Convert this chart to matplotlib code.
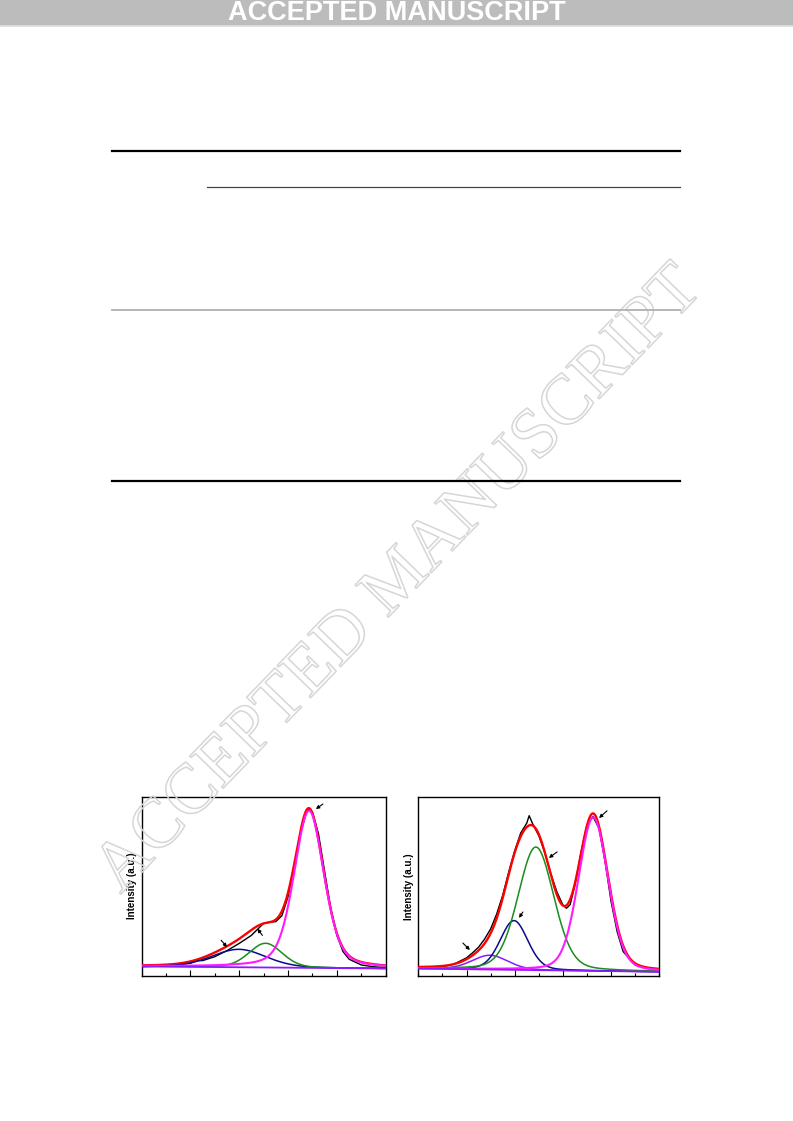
import numpy as np
import matplotlib
matplotlib.use("Agg")
import matplotlib.pyplot as plt
import matplotlib.patheffects as pe
from matplotlib.patches import Rectangle
from matplotlib.lines import Line2D

# --- data -------------------------------------------------------------------
# measured spectra (black), sampled along the energy axis (arbitrary 0..10)
left_x = [0, 0.5, 1.0, 1.5, 2.0, 2.25, 2.5, 3.0, 3.5, 4.0, 4.5, 5.0, 5.25, 5.5,
          5.75, 6.0, 6.25, 6.5, 6.75, 6.85, 7.0, 7.25, 7.5, 7.75, 8.0, 8.25,
          8.5, 9.0, 9.5, 10.0]
left_raw = [0.050, 0.052, 0.054, 0.063, 0.069, 0.085, 0.084, 0.106, 0.140,
            0.180, 0.225, 0.292, 0.298, 0.302, 0.335, 0.440, 0.610, 0.790,
            0.910, 0.932, 0.912, 0.790, 0.580, 0.375, 0.225, 0.135, 0.092,
            0.060, 0.050, 0.045]

right_x = [0, 0.5, 1.0, 1.5, 2.0, 2.25, 2.5, 2.75, 3.0, 3.25, 3.5, 3.75, 4.0,
           4.25, 4.5, 4.6, 4.75, 5.0, 5.25, 5.5, 5.75, 6.0, 6.15, 6.3, 6.5,
           6.75, 7.0, 7.25, 7.5, 7.75, 8.0, 8.25, 8.5, 9.0, 9.5, 10.0]
right_raw = [0.041, 0.043, 0.050, 0.066, 0.100, 0.128, 0.160, 0.205, 0.262,
             0.345, 0.450, 0.580, 0.700, 0.800, 0.855, 0.897, 0.850, 0.785,
             0.690, 0.570, 0.470, 0.396, 0.378, 0.398, 0.508, 0.690, 0.845,
             0.892, 0.826, 0.640, 0.415, 0.247, 0.135, 0.060, 0.041, 0.032]

# fitted components: centre, height above background, fwhm, lorentz share
left_bg = [0.052, 0.040]
left_names = ["navy", "green", "magenta"]
left_center = [3.99, 5.08, 6.86]
left_height = [0.100, 0.135, 0.877]
left_fwhm = [2.6, 1.6, 1.45]
left_eta = [0.2, 0.2, 0.35]

right_bg = [0.040, 0.022]
right_names = ["purple", "navy", "green", "magenta"]
right_center = [2.97, 3.97, 4.88, 7.26]
right_height = [0.080, 0.276, 0.690, 0.860]
right_fwhm = [1.75, 1.35, 1.75, 1.45]
right_eta = [0.2, 0.2, 0.2, 0.2]

# arrows (tail -> head) in data coords
left_arrows = [((7.43, 0.958), (7.14, 0.930)),
               ((3.26, 0.198), (3.50, 0.160)),
               ((4.95, 0.225), (4.75, 0.262))]
right_arrows = [((1.85, 0.183), (2.14, 0.144)),
                ((4.34, 0.357), (4.18, 0.324)),
                ((5.76, 0.694), (5.42, 0.660)),
                ((7.83, 0.924), (7.50, 0.884))]

colors = {"navy": "#0a0a8c", "green": "#1a8c1a", "magenta": "#ff1aff",
          "purple": "#8c1aff"}


def pseudo_voigt(x, c, h, w, eta):
    g = np.exp(-4 * np.log(2) * (x - c) ** 2 / w ** 2)
    l = 1.0 / (1.0 + ((x - c) / (w / 2)) ** 2)
    return h * (eta * l + (1 - eta) * g)


def draw_panel(ax, raw_x, raw_y, bg, names, cen, hgt, fw, eta, arrows):
    x = np.linspace(0, 10, 600)
    base = np.interp(x, [0, 10], bg)
    comps = [pseudo_voigt(x, c, h, w, e) for c, h, w, e in zip(cen, hgt, fw, eta)]
    env = base + np.sum(comps, axis=0)

    ax.plot(raw_x, raw_y, color="black", lw=1.0, zorder=2)
    ax.plot(x, env, color="#ff0000", lw=1.7, zorder=3)
    for name, comp in zip(names, comps):
        lw = 1.5 if name == "magenta" else 1.1
        ax.plot(x, base + comp, color=colors[name], lw=lw, zorder=4)
    ax.plot(x, base, color="#8c1aff", lw=1.3, zorder=4)

    for tail, head in arrows:
        ax.annotate("", xy=head, xytext=tail, zorder=5,
                    arrowprops=dict(arrowstyle="-|>", color="black", lw=0.8,
                                    mutation_scale=5, shrinkA=0, shrinkB=0))

    ax.set_xlim(0, 10)
    ax.set_ylim(0, 1)
    ax.set_facecolor("none")
    ax.set_xticks([2, 4, 6, 8])
    ax.set_xticks(np.arange(0, 11, 1), minor=True)
    ax.set_yticks([])
    ax.tick_params(axis="x", which="major", direction="in", length=4, width=0.8,
                   labelbottom=False)
    ax.tick_params(axis="x", which="minor", direction="in", length=2, width=0.8)
    for s in ax.spines.values():
        s.set_linewidth(1.0)
    ax.set_ylabel("Intensity (a.u.)", fontsize=7, fontweight="bold",
                  family="Liberation Sans", labelpad=3)


W, H = 793, 1121
fig = plt.figure(figsize=(W / 100, H / 100), dpi=100)


def fx(px):
    return px / W


def fy(py):
    return 1 - py / H


# header banner
fig.patches.append(Rectangle((0, fy(25)), 1, 25 / H, transform=fig.transFigure,
                             color="#bcbcbc", zorder=0))
fig.lines.append(Line2D([0, 1], [fy(26), fy(26)], transform=fig.transFigure,
                        color="#dedede", lw=1.2))
fig.text(0.5, fy(13), "ACCEPTED MANUSCRIPT", color="white", fontsize=19.5,
         fontweight="bold", family="Liberation Sans",
         ha="center", va="center")

# table rules
rules = [(112, 680, 151, 1.6, "black"),
         (207, 680, 187, 0.9, "#444444"),
         (112, 680, 310, 1.3, "#b0b0b0"),
         (112, 680, 481, 1.6, "black")]
for x0, x1, yy, lw, col in rules:
    fig.lines.append(Line2D([fx(x0), fx(x1)], [fy(yy), fy(yy)],
                            transform=fig.transFigure, color=col, lw=lw))

# watermark
fig.text(fx(400), fy(580), "ACCEPTED MANUSCRIPT", fontsize=51,
         family="Liberation Serif", rotation=46, rotation_mode="anchor",
         ha="center", va="center", color="none", zorder=0,
         path_effects=[pe.Stroke(linewidth=1.1, foreground="#d6d6d6")])

ax1 = fig.add_axes([fx(141.5), fy(975.7), fx(244.2), 179.2 / H])
ax2 = fig.add_axes([fx(418.3), fy(975.7), fx(241.0), 178.4 / H])

draw_panel(ax1, left_x, left_raw, left_bg, left_names, left_center,
           left_height, left_fwhm, left_eta, left_arrows)
draw_panel(ax2, right_x, right_raw, right_bg, right_names, right_center,
           right_height, right_fwhm, right_eta, right_arrows)

fig.savefig("out.png", dpi=100)
